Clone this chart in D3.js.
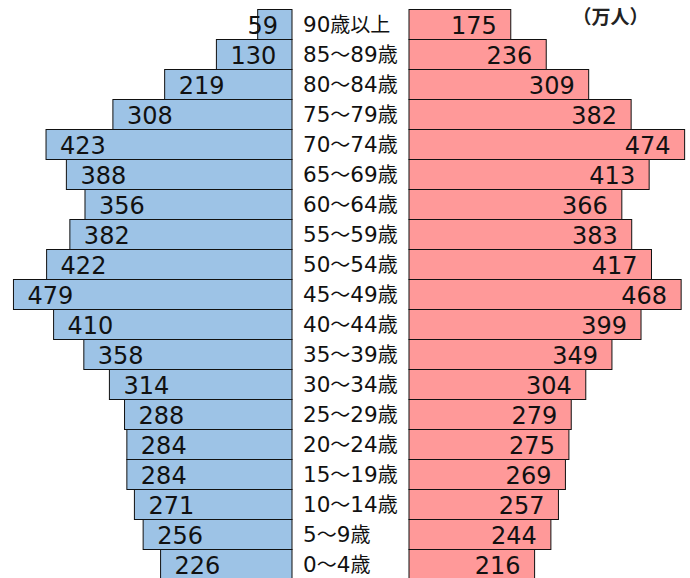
<!DOCTYPE html>
<html><head><meta charset="utf-8">
<script src="https://cdn.jsdelivr.net/npm/d3@7"></script>
<style>
html,body{margin:0;padding:0;background:#fff;}
svg{display:block;}
</style>
</head><body>
<svg id="chart" width="690" height="578"></svg>
<script>
const ageGroups = ["90歳以上","85～89歳","80～84歳","75～79歳","70～74歳","65～69歳","60～64歳","55～59歳","50～54歳","45～49歳","40～44歳","35～39歳","30～34歳","25～29歳","20～24歳","15～19歳","10～14歳","5～9歳","0～4歳"];
const male = [59,130,219,308,423,388,356,382,422,479,410,358,314,288,284,284,271,256,226];
const female = [175,236,309,382,474,413,366,383,417,468,399,349,304,279,275,269,257,244,216];
const unitLabel = "（万人）";

const svg = d3.select("#chart");
const y = d3.scaleBand().domain(ageGroups).range([9.5, 9.5 + 30 * ageGroups.length]).padding(0);
const xL = d3.scaleLinear().domain([0, 500]).range([292, 292 - 500 * 0.5815]);
const xR = d3.scaleLinear().domain([0, 500]).range([409, 409 + 500 * 0.5815]);
const numFont = "'DejaVu Sans', 'Noto Sans CJK JP', sans-serif";

const rows = ageGroups.map((g, i) => ({g, m: male[i], f: female[i]}));

// left (male) bars
svg.append("g").selectAll("rect").data(rows).join("rect")
  .attr("x", d => xL(d.m)).attr("y", d => y(d.g))
  .attr("width", d => xL(0) - xL(d.m)).attr("height", y.bandwidth())
  .attr("fill", "#9dc3e6").attr("stroke", "#111").attr("stroke-width", 1);

// right (female) bars
svg.append("g").selectAll("rect").data(rows).join("rect")
  .attr("x", xR(0)).attr("y", d => y(d.g))
  .attr("width", d => xR(d.f) - xR(0)).attr("height", y.bandwidth())
  .attr("fill", "#ff9999").attr("stroke", "#111").attr("stroke-width", 1);

// male value labels
svg.append("g").selectAll("text").data(rows).join("text")
  .attr("y", d => y(d.g) + y.bandwidth() / 2 + 9)
  .attr("font-family", numFont).attr("font-size", 24).attr("fill", "#111")
  .text(d => d.m)
  .each(function(d) {
    const w = this.getComputedTextLength();
    const x0 = Math.min(xL(d.m) + 14, 278 - w);
    d3.select(this).attr("x", x0);
  });

// female value labels
svg.append("g").selectAll("text").data(rows).join("text")
  .attr("x", d => xR(d.f) - 14)
  .attr("y", d => y(d.g) + y.bandwidth() / 2 + 9)
  .attr("text-anchor", "end")
  .attr("font-family", numFont).attr("font-size", 24).attr("fill", "#111")
  .text(d => d.f);

// category labels
const cat = svg.append("g").selectAll("text").data(rows).join("text")
  .attr("x", 303)
  .attr("y", d => y(d.g) + y.bandwidth() / 2 + 7.5)
  .attr("font-family", numFont).attr("font-size", 21.5).attr("fill", "#111");
cat.each(function(d) {
  const t = d3.select(this);
  const parts = d.g.match(/[0-9]+|[^0-9]/g);
  parts.forEach(p => {
    const s = t.append("tspan").text(p);
    if (!/^[0-9]+$/.test(p)) s.attr("font-size", 20).attr("font-family", "'Noto Sans CJK JP', sans-serif");
  });
});

// unit label
svg.append("text").attr("x", 610.5).attr("y", 23.5).attr("text-anchor", "middle")
  .attr("font-family", "'Noto Sans CJK JP', sans-serif").attr("font-size", 19).attr("font-weight", "bold").attr("fill", "#222")
  .text(unitLabel);
</script>
</body></html>
